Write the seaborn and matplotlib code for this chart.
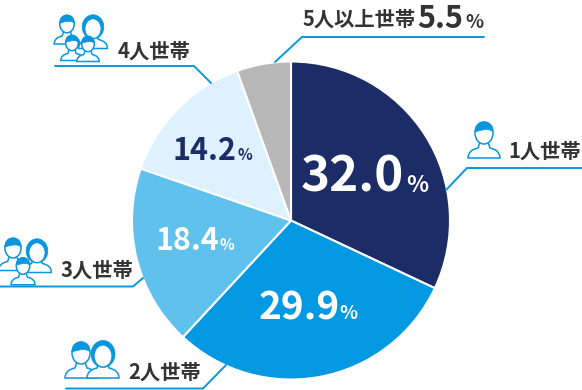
import matplotlib
matplotlib.use('Agg')
import matplotlib.pyplot as plt
from matplotlib.patches import Ellipse, PathPatch
from matplotlib.path import Path
import seaborn as sns

households = ['1人世帯', '2人世帯', '3人世帯', '4人世帯', '5人以上世帯']
shares = [32.0, 29.9, 18.4, 14.2, 5.5]
colors = ['#1C2C66', '#0398E2', '#5FC1EC', '#DDF1FF', '#B7B7B7']

BLUE = '#0A96DE'
DARK = '#333333'
JP = ['Noto Sans CJK JP', 'DejaVu Sans']

sns.set_theme(style='white')
plt.rcParams['font.family'] = JP

fig = plt.figure(figsize=(5.82, 3.9), dpi=100)
ax = fig.add_axes([0, 0, 1, 1])

# y軸を反転するので counterclock=True で時計回りに見える
ax.pie(shares, colors=sns.color_palette(colors), center=(291, 220.5), radius=159,
       startangle=-90, counterclock=True, frame=True,
       wedgeprops={'edgecolor': 'white', 'linewidth': 1.5})
ax.set_xlim(0, 582)
ax.set_ylim(390, 0)
ax.set_aspect('equal')
ax.axis('off')


def person(cx, cy, s=1.0, woman=False, z=5):
    """cx, cy = 頭の中心 (px)、s = 大きさ"""
    lw = 1.1
    # 肩
    pts = [(-16, 25), (-16, 17), (-6, 15), (-4, 9), (4, 9), (6, 15), (16, 17), (16, 25), (-16, 25)]
    verts = [(cx + a * s, cy + b * s) for a, b in pts]
    codes = [Path.MOVETO, Path.CURVE3, Path.CURVE3, Path.LINETO, Path.LINETO, Path.LINETO,
             Path.CURVE3, Path.CURVE3, Path.CLOSEPOLY]
    ax.add_patch(PathPatch(Path(verts, codes), fc='white', ec=BLUE, lw=lw, zorder=z))
    if woman:
        ax.add_patch(Ellipse((cx, cy + 1 * s), 24 * s, 27 * s, fc=BLUE, ec=BLUE, lw=0.5, zorder=z))
        ax.add_patch(Ellipse((cx, cy + 3 * s), 16 * s, 20 * s, fc='white', ec='white', lw=0.5, zorder=z))
        return
    ax.add_patch(Ellipse((cx, cy), 18 * s, 22 * s, fc='white', ec=BLUE, lw=lw, zorder=z))
    # 髪
    hair = [(-9, -1), (-9, -11), (0, -11), (9, -11), (9, -1), (5, -6), (-9, -1)]
    hair_verts = [(cx + a * s, cy + b * s) for a, b in hair]
    hair_codes = [Path.MOVETO] + [Path.CURVE3] * 6
    ax.add_patch(PathPatch(Path(hair_verts, hair_codes), fc=BLUE, ec=BLUE, lw=0.5, zorder=z))


# 引き出し線
leaders = [
    ([446, 467, 582], [190, 168, 168]),
    ([226, 203, 66], [365, 388.5, 388.5]),
    ([143, 133, 0], [278, 286.5, 286.5]),
    ([211, 194, 55], [83, 66, 66]),
    ([275, 302, 484], [62, 37, 37]),
]
for xs, ys in leaders:
    ax.plot(xs, ys, color=BLUE, lw=1.4, zorder=4, solid_joinstyle='miter')

# 世帯ラベル
label_pos = [(581, 149), (201, 370), (133, 268), (190, 49), (416, 17)]
for name, (x, y) in zip(households, label_pos):
    ax.text(x, y, name, ha='right', va='center_baseline', fontsize=14.6, fontweight='bold', color=DARK, zorder=6)

# 数値
value_pos = [(404, 192, 35.5, 'white', 16.5, 406), (340, 319, 28, 'white', 13.5, 339), (219, 250, 22, 'white', 11, 219),
             (236, 160, 22, '#1C2C66', 11, 238), (463, 28, 22, DARK, 13.5, 465)]
for v, (x, y, fs, col, pfs, px) in zip(shares, value_pos):
    ax.text(x, y, f'{v:.1f}', ha='right', va='baseline', fontsize=fs, fontweight='bold', color=col, zorder=6)
    ax.text(px, y, '%', ha='left', va='baseline', fontsize=pfs, fontweight='bold', color=col, zorder=6)

# アイコン
person(484, 133, 1.0)

person(81, 353, 1.0)
person(103, 353, 1.0, woman=True, z=6)

person(13, 248, 0.9)
person(37, 250, 0.9, woman=True)
person(23, 266, 0.75, z=6)

person(67, 24, 0.8)
person(93, 26, 0.9, woman=True)
person(72, 43, 0.7, z=6)
person(88, 44, 0.7, z=6)

fig.savefig('out.png', dpi=100)
